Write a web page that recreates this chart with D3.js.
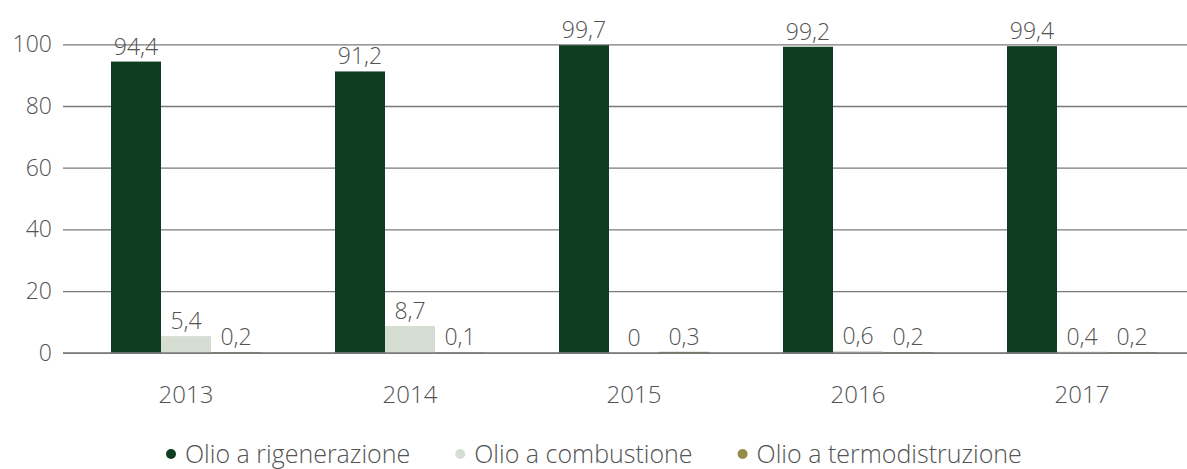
<!DOCTYPE html>
<html>
<head>
<meta charset="utf-8">
<script src="https://cdn.jsdelivr.net/npm/d3@7"></script>
<style>
  html, body { margin: 0; padding: 0; background: #fff; }
  svg { display: block; }
  text { font-family: "Open Sans", "Noto Sans", sans-serif; font-weight: 300; fill: #535353; }
</style>
</head>
<body>
<svg id="chart" width="1187" height="469"></svg>
<script>
// Oil disposal shares per year (%)
const years = ["2013", "2014", "2015", "2016", "2017"];
const seriesNames = ["Olio a rigenerazione", "Olio a combustione", "Olio a termodistruzione"];
const rigenerazione = [94.4, 91.2, 99.7, 99.2, 99.4];
const combustione = [5.4, 8.7, 0, 0.6, 0.4];
const termodistruzione = [0.2, 0.1, 0.3, 0.2, 0.2];
const yTicks = [0, 20, 40, 60, 80, 100];

const seriesValues = [rigenerazione, combustione, termodistruzione];
const barColors = ["#0e3d20", "#d6ddd3", "#5f601d"];
const legendColors = ["#0e3d20", "#d6ddd3", "#978b4b"];

const fmt = v => String(v).replace(".", ",");
const FONT = "'Open Sans', 'Noto Sans', sans-serif";
const TEXT = "#535353";

const svg = d3.select("#chart");
const W = 1187;

const x = d3.scaleBand().domain(years).range([74, 74 + 224 * years.length]).paddingInner(0).paddingOuter(0);
const groupPad = 37;
const xs = d3.scaleBand().domain(d3.range(seriesNames.length))
  .range([groupPad, x.bandwidth() - groupPad]).padding(0);
const y = d3.scaleLinear().domain([0, 100]).range([352.8, 44.3]);

// horizontal gridlines and y tick labels
const yAxis = d3.axisLeft(y).tickValues(yTicks).tickSize(-(W - 63)).tickPadding(11).tickFormat(d => d);
const gy = svg.append("g").attr("transform", "translate(63,0)").call(yAxis);
gy.select(".domain").remove();
gy.selectAll(".tick line").attr("stroke", "#7a7a7a").attr("stroke-width", 1.3);
gy.selectAll(".tick text").attr("font-size", 23).attr("fill", TEXT)
  .style("font-family", FONT).style("font-weight", 300);

// year labels
const xAxis = d3.axisBottom(x).tickSize(0).tickPadding(0);
const gx = svg.append("g").attr("transform", "translate(0,403)").call(xAxis);
gx.select(".domain").remove();
gx.selectAll(".tick text").attr("font-size", 24).attr("y", 0).attr("dy", 0).attr("fill", TEXT)
  .style("font-family", FONT).style("font-weight", 300);

// bars
const rows = [];
years.forEach((yr, i) => {
  seriesValues.forEach((vals, s) => rows.push({ year: yr, s, v: vals[i] }));
});

const barG = svg.append("g");
barG.selectAll("rect").data(rows).join("rect")
  .attr("x", d => x(d.year) + xs(d.s))
  .attr("width", xs.bandwidth())
  .attr("y", d => y(d.v))
  .attr("height", d => y(0) - y(d.v))
  .attr("fill", d => barColors[d.s]);

// redraw the zero line over the bars
svg.append("line").attr("x1", 63).attr("x2", W).attr("y1", y(0)).attr("y2", y(0))
  .attr("stroke", "#7a7a7a").attr("stroke-width", 1.3);

// value labels
barG.selectAll("text").data(rows).join("text")
  .attr("x", d => x(d.year) + xs(d.s) + xs.bandwidth() / 2)
  .attr("y", d => y(d.v) - 7)
  .attr("text-anchor", "middle")
  .attr("font-size", 23)
  .text(d => fmt(d.v));

// legend
const legend = svg.append("g").attr("transform", "translate(0,454)");
const items = legend.selectAll("g").data(seriesNames).join("g");
items.append("circle").attr("r", 5).attr("cx", 0).attr("cy", 0).attr("fill", (d, i) => legendColors[i]);
items.append("text").attr("x", 14).attr("y", 0).attr("dy", "0.36em").attr("font-size", 25).text(d => d);
const gap = 50;
const widths = [];
items.each(function () { widths.push(14 + this.querySelector("text").getComputedTextLength()); });
let pos = 171;
items.attr("transform", (d, i) => {
  const t = `translate(${pos},0)`;
  pos += widths[i] + gap;
  return t;
});
</script>
</body>
</html>
